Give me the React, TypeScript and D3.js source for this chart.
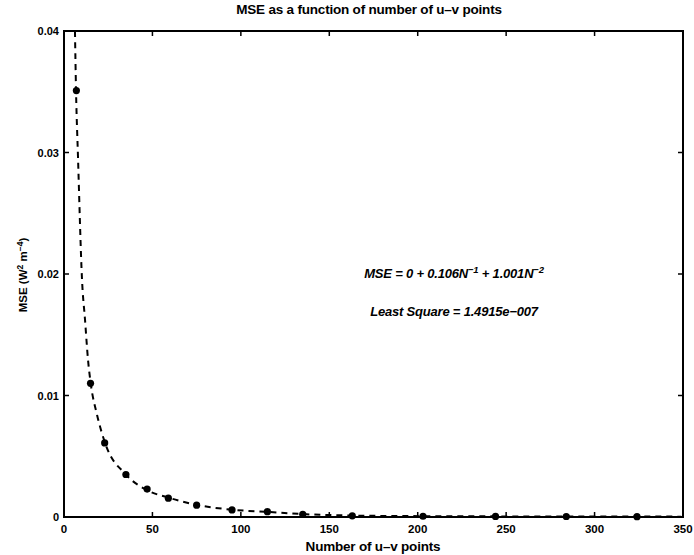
import React from "react";
import * as d3 from "d3";

const pointN = [7, 15, 23, 35, 47, 59, 75, 95, 115, 135, 163, 203, 244, 284, 324];
const pointMSE = [0.0351, 0.011, 0.0061, 0.0035, 0.0023, 0.00155, 0.00097, 0.00058, 0.00044, 0.00022, 0.0001, 0.00006, 0.00005, 0.00004, 0.00003];

const fitN = [6.2, 6.8, 7.9, 10.2, 11.9, 13.6, 15.1, 18.7, 23.2, 35, 47, 59, 75, 95, 115, 135, 163, 203, 250, 300, 349];
const fitMSE = [0.04, 0.0351, 0.0297, 0.0195, 0.0162, 0.0129, 0.011, 0.0084, 0.0061, 0.0035, 0.0022, 0.0016, 0.001, 0.0006, 0.00042, 0.00024, 0.00012, 0.00007, 0.00005, 0.00004, 0.00003];

const xTicks = [0, 50, 100, 150, 200, 250, 300, 350];
const yTicks = [0, 0.01, 0.02, 0.03, 0.04];

const W = 694, H = 555;
const L = 64, R = 683, T = 31, B = 517;
const FONT = "'Liberation Sans', Arial, sans-serif";

export default function App() {
  const x = d3.scaleLinear().domain([0, 350]).range([L, R]);
  const y = d3.scaleLinear().domain([0, 0.04]).range([B, T]);
  const line = d3
    .line<number>()
    .x((_, i) => x(fitN[i]))
    .y((_, i) => y(fitMSE[i]))
    .curve(d3.curveMonotoneX);
  const tl = 5;
  return (
    <svg width={W} height={H} style={{ position: "absolute", left: 0, top: 0, background: "#fff" }}>
      <rect x={0} y={0} width={W} height={H} fill="#fff" />
      <path d={line(fitN) || ""} fill="none" stroke="#000" strokeWidth={2} strokeDasharray="6,5" />
      {pointN.map((n, i) => (
        <circle key={i} cx={x(n)} cy={y(pointMSE[i])} r={3.6} fill="#000" />
      ))}
      <rect x={L} y={T} width={R - L} height={B - T} fill="none" stroke="#000" strokeWidth={2} />
      {xTicks.map((t) => (
        <g key={"x" + t}>
          <line x1={x(t)} x2={x(t)} y1={B} y2={B - tl} stroke="#000" strokeWidth={1.5} />
          <line x1={x(t)} x2={x(t)} y1={T} y2={T + tl} stroke="#000" strokeWidth={1.5} />
          <text x={x(t)} y={B + 16} textAnchor="middle" fontFamily={FONT} fontWeight="bold" fontSize={11.5}>
            {t}
          </text>
        </g>
      ))}
      {yTicks.map((t) => (
        <g key={"y" + t}>
          <line x1={L} x2={L + tl} y1={y(t)} y2={y(t)} stroke="#000" strokeWidth={1.5} />
          <line x1={R} x2={R - tl} y1={y(t)} y2={y(t)} stroke="#000" strokeWidth={1.5} />
          <text x={L - 5} y={y(t) + 4} textAnchor="end" fontFamily={FONT} fontWeight="bold" fontSize={11}>
            {t === 0 ? "0" : String(t)}
          </text>
        </g>
      ))}
      <text x={369} y={14} textAnchor="middle" fontFamily={FONT} fontWeight="bold" fontSize={13.5} letterSpacing={-0.2}>
        MSE as a function of number of u–v points
      </text>
      <text x={373} y={551} textAnchor="middle" fontFamily={FONT} fontWeight="bold" fontSize={13.5} letterSpacing={-0.2}>
        Number of u–v points
      </text>
      <text
        transform={`translate(27,${275}) rotate(-90)`}
        textAnchor="middle"
        fontFamily={FONT}
        fontWeight="bold"
        fontSize={11.5}
      >
        MSE (W<tspan dy={-4} fontSize={8.5}>2</tspan>
        <tspan dy={4}> m</tspan>
        <tspan dy={-4} fontSize={8.5}>−4</tspan>
        <tspan dy={4}>)</tspan>
      </text>
      <text x={454} y={278} textAnchor="middle" fontFamily={FONT} fontWeight="bold" fontStyle="italic" fontSize={13} letterSpacing={-0.2}>
        MSE = 0 + 0.106N<tspan dy={-5} fontSize={9.5}>−1</tspan>
        <tspan dy={5}> + 1.001N</tspan>
        <tspan dy={-5} fontSize={9.5}>−2</tspan>
      </text>
      <text x={454} y={316} textAnchor="middle" fontFamily={FONT} fontWeight="bold" fontStyle="italic" fontSize={13} letterSpacing={-0.2}>
        Least Square = 1.4915e−007
      </text>
    </svg>
  );
}
